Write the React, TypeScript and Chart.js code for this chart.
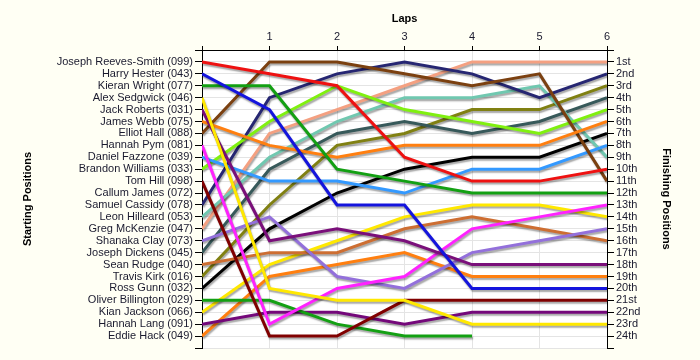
import { useEffect, useRef } from "react";
import { Chart, registerables } from "chart.js";

Chart.register(...registerables);

// ---- Data ----
const laps = [0, 1, 2, 3, 4, 5, 6];
const lapTickLabels = ["", "1", "2", "3", "4", "5", "6"];

const drivers = [
  "Joseph Reeves-Smith (099)",
  "Harry Hester (043)",
  "Kieran Wright (077)",
  "Alex Sedgwick (046)",
  "Jack Roberts (031)",
  "James Webb (075)",
  "Elliot Hall (088)",
  "Hannah Pym (081)",
  "Daniel Fazzone (039)",
  "Brandon Williams (033)",
  "Tom Hill (098)",
  "Callum James (072)",
  "Samuel Cassidy (078)",
  "Leon Hilleard (053)",
  "Greg McKenzie (047)",
  "Shanaka Clay (073)",
  "Joseph Dickens (045)",
  "Sean Rudge (040)",
  "Travis Kirk (016)",
  "Ross Gunn (032)",
  "Oliver Billington (029)",
  "Kian Jackson (066)",
  "Hannah Lang (091)",
  "Eddie Hack (049)",
];

const finishLabels = [
  "1st", "2nd", "3rd", "4th", "5th", "6th", "7th", "8th", "9th", "10th", "11th", "12th",
  "13th", "14th", "15th", "16th", "17th", "18th", "19th", "20th", "21st", "22nd", "23rd", "24th",
];

const reevesSmith = [1, 2, 3, 9, 11, 11, 10];
const hester = [2, 5, 13, 13, 20, 20, 20];
const wright = [3, 3, 10, 11, 12, 12, 12];
const sedgwick = [4, 20, 21, 21, 23, 23, 23];
const roberts = [5, 16, 15, 16, 18, 18, 18];
const webb = [6, 8, 9, 8, 8, 8, 6];
const hall = [7, 1, 1, 2, 3, 2, 11];
const pym = [8, 23, 20, 19, 15, 14, 13];
const fazzone = [9, 11, 11, 12, 10, 10, 8];
const williams = [10, 6, 3, 5, 6, 7, 5];
const hill = [11, 24, 24, 21, 21, 21, 21];
const james = [null, null, null, null, null, null, null];
const cassidy = [13, 4, 2, 1, 2, 4, 2];
const hilleard = [14, 9, 6, 4, 4, 3, 9];
const mckenzie = [15, 7, 5, 3, 1, 1, 1];
const clay = [16, 14, 19, 20, 17, 16, 15];
const dickens = [17, 10, 7, 6, 7, 6, 4];
const rudge = [18, 17, 17, 15, 14, 15, 16];
const kirk = [19, 13, 8, 7, 5, 5, 3];
const gunn = [20, 15, 12, 10, 9, 9, 7];
const billington = [21, 21, 23, 24, 24, null, null];
const jackson = [22, 18, 16, 14, 13, 13, 14];
const lang = [23, 22, 22, 23, 22, 22, 22];
const hack = [24, 19, 18, 17, 19, 19, 19];

const positions = [
  reevesSmith, hester, wright, sedgwick, roberts, webb, hall, pym, fazzone, williams, hill, james,
  cassidy, hilleard, mckenzie, clay, dickens, rudge, kirk, gunn, billington, jackson, lang, hack,
];

const colors = [
  "#ee1111", "#1414dd", "#13a013", "#ffe800", "#7a0f7a", "#ff7f10", "#7b4010", "#ff22ff",
  "#3399ff", "#80f010", "#800000", "#999999", "#262672", "#70c8b0", "#f4a081", "#9370db",
  "#37595a", "#cd6e32", "#808012", "#000000", "#13a013", "#ffe800", "#74087a", "#ff7f10",
];

const yTicks = Array.from({ length: 26 }, (_, i) => i);

const bgPlugin = {
  id: "bg",
  beforeDraw(chart: any) {
    const { ctx, chartArea } = chart;
    ctx.save();
    ctx.fillStyle = "#fffff4";
    ctx.fillRect(0, 0, chart.width, chart.height);
    ctx.fillStyle = "#ffffff";
    ctx.fillRect(chartArea.left, chartArea.top, chartArea.right - chartArea.left, chartArea.bottom - chartArea.top);
    ctx.restore();
  },
};

const shadowPlugin = {
  id: "shadow",
  beforeDatasetsDraw(chart: any) {
    const ctx = chart.ctx;
    ctx.save();
    ctx.shadowColor = "rgba(0,0,0,0.35)";
    ctx.shadowOffsetX = 1;
    ctx.shadowOffsetY = 2;
    ctx.shadowBlur = 1.5;
  },
  afterDatasetsDraw(chart: any) {
    chart.ctx.restore();
  },
};

export default function App() {
  const ref = useRef<HTMLCanvasElement | null>(null);

  useEffect(() => {
    if (!ref.current) return;
    const tickFont = { family: "'Liberation Sans', Arial, sans-serif", size: 11 };
    const titleFont = { family: "'Liberation Sans', Arial, sans-serif", size: 11, weight: "bold" as const };
    const tickColor = "#1a1a2e";

    const chart = new Chart(ref.current, {
      type: "line",
      data: {
        datasets: drivers.map((name, i) => ({
          label: name,
          data: laps.map((lap, j) => ({ x: lap, y: positions[i][j] as any })),
          borderColor: colors[i],
          backgroundColor: colors[i],
          borderWidth: 3,
          pointRadius: 0,
          tension: 0,
          spanGaps: false,
          fill: false,
          yAxisID: "y",
          xAxisID: "x",
        })),
      },
      plugins: [bgPlugin, shadowPlugin],
      options: {
        animation: false,
        responsive: false,
        layout: { padding: { top: 0, left: 0, right: 0, bottom: 12 } },
        plugins: { legend: { display: false }, tooltip: { enabled: false } },
        scales: {
          x: {
            type: "linear",
            position: "top",
            min: 0,
            max: 6,
            afterBuildTicks: (s: any) => {
              s.ticks = laps.map((v) => ({ value: v }));
            },
            afterFit: (s: any) => {
              s.height = 50;
            },
            ticks: {
              autoSkip: false,
              maxRotation: 0,
              padding: 2,
              color: tickColor,
              font: tickFont,
              callback: (v: any) => lapTickLabels[v] ?? "",
            },
            grid: { color: "#e4e4e4", tickColor: "#000", tickLength: 4, lineWidth: 1 },
            border: { color: "#000", width: 1 },
            title: { display: true, text: "Laps", color: "#000", font: titleFont, padding: { top: 12, bottom: 0 } },
          },
          y: {
            type: "linear",
            position: "left",
            reverse: true,
            min: 0,
            max: 25,
            afterBuildTicks: (s: any) => {
              s.ticks = yTicks.map((v) => ({ value: v }));
            },
            afterFit: (s: any) => {
              s.width = 202;
            },
            ticks: {
              autoSkip: false,
              padding: 2,
              color: tickColor,
              font: tickFont,
              callback: (v: any) => (v >= 1 && v <= 24 ? drivers[v - 1] : ""),
            },
            grid: { color: "#e4e4e4", tickColor: "#000", tickLength: 7, lineWidth: 1 },
            border: { color: "#000", width: 1 },
            title: { display: true, text: "Starting Positions", color: "#000", font: titleFont, padding: { top: 21, bottom: 0 } },
          },
          y2: {
            type: "linear",
            position: "right",
            reverse: true,
            min: 0,
            max: 25,
            afterBuildTicks: (s: any) => {
              s.ticks = yTicks.map((v) => ({ value: v }));
            },
            afterFit: (s: any) => {
              s.width = 93;
            },
            ticks: {
              autoSkip: false,
              padding: 2,
              color: tickColor,
              font: tickFont,
              callback: (v: any) => (v >= 1 && v <= 24 ? finishLabels[v - 1] : ""),
            },
            grid: { drawOnChartArea: false, tickColor: "#000", tickLength: 7, lineWidth: 1 },
            border: { color: "#000", width: 1 },
            title: { display: true, text: "Finishing Positions", color: "#000", font: titleFont, padding: { top: 27, bottom: 0 } },
          },
        },
      },
    } as any);

    return () => chart.destroy();
  }, []);

  return (
    <div style={{ position: "fixed", left: 0, top: 0, width: 700, height: 360 }}>
      <canvas ref={ref} width={700} height={360} style={{ display: "block", width: 700, height: 360 }} />
    </div>
  );
}
